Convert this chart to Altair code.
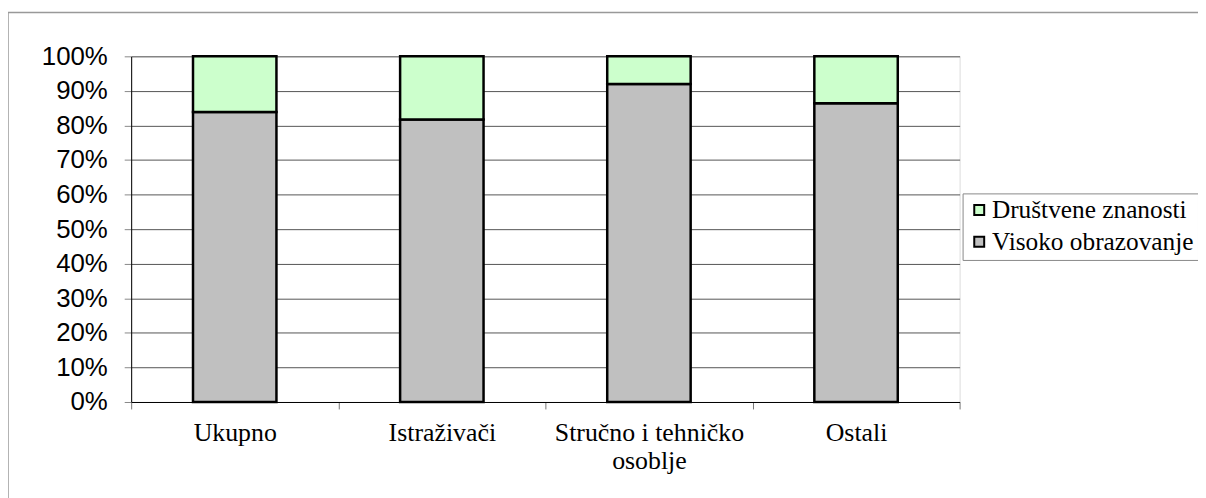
import altair as alt
import pandas as pd

categories = ["Ukupno", "Istraživači", "Stručno i tehničko osoblje", "Ostali"]
visoko = [83.9, 81.7, 92.0, 86.4]
drustvene = [16.1, 18.3, 8.0, 13.6]
series_names = ["Društvene znanosti", "Visoko obrazovanje"]
y_ticks = [0, 0.1, 0.2, 0.3, 0.4, 0.5, 0.6, 0.7, 0.8, 0.9, 1.0]

rows = []
for c, v, d in zip(categories, visoko, drustvene):
    rows.append({"cat": c, "series": "Visoko obrazovanje", "val": v, "ord": 0})
    rows.append({"cat": c, "series": "Društvene znanosti", "val": d, "ord": 1})
df = pd.DataFrame(rows)

serif = "'Liberation Serif', 'Times New Roman', Times, serif"
sans = "'Liberation Sans', Arial, sans-serif"

bars = alt.Chart(df).mark_bar(size=84, stroke="black", strokeWidth=2.5).encode(
    x=alt.X("cat:N", sort=categories, title=None,
            scale=alt.Scale(paddingInner=0, paddingOuter=0),
            axis=alt.Axis(labelAngle=0, labelFont=serif, labelFontSize=26, labelColor="black",
                          tickBand="extent", tickSize=7, tickColor="#777", domainColor="black",
                          labelPadding=11, labelLineHeight=28, labelLimit=400,
                          labelExpr="datum.label == 'Stručno i tehničko osoblje' ? ['Stručno i tehničko', 'osoblje'] : datum.label")),
    y=alt.Y("val:Q", stack="normalize", title=None,
            scale=alt.Scale(domain=[0, 1]),
            axis=alt.Axis(values=y_ticks, format=".0%", labelFont=sans, labelFontSize=26,
                          labelColor="black", tickSize=7, tickColor="#888", labelPadding=17,
                          domainColor="black", grid=True, gridColor="#555", gridWidth=1)),
    color=alt.Color("series:N", scale=alt.Scale(domain=series_names, range=["#CCFFCC", "#C0C0C0"]),
                    legend=alt.Legend(title=None, orient="none", legendX=837, legendY=138,
                                      symbolType="square", symbolSize=100, symbolStrokeColor="black",
                                      symbolStrokeWidth=2, labelFont=serif, labelFontSize=25.5,
                                      labelColor="black", strokeColor="#888", padding=4,
                                      rowPadding=5, labelOffset=0, labelLimit=400)),
    order=alt.Order("ord:Q"),
)

border = alt.Chart(alt.Data(values=[{"a": 1}])).mark_rect(fill=None, stroke="#999", strokeWidth=1.5, clip=False).encode(
    x=alt.value(-124), x2=alt.value(1200), y=alt.value(-44), y2=alt.value(600)
)

chart = alt.layer(border, bars).properties(
    width=834, height=348,
    autosize=alt.AutoSizeParams(type="none"),
    padding={"left": 124, "top": 47, "right": 240, "bottom": 95},
).configure_view(stroke=None).configure(background="white")

chart.save("out.html", embed_options={"renderer": "svg", "actions": False})
